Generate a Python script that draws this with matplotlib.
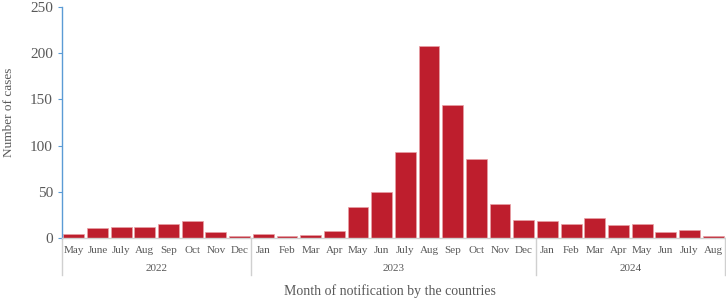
import numpy as np
import matplotlib.pyplot as plt
from matplotlib import transforms

plt.rcParams['font.family'] = ['Liberation Serif', 'DejaVu Serif']

# Monthly case counts, May 2022 - Aug 2024
MONTHS = ['May', 'June', 'July', 'Aug', 'Sep', 'Oct', 'Nov', 'Dec',
          'Jan', 'Feb', 'Mar', 'Apr', 'May', 'Jun', 'July', 'Aug', 'Sep', 'Oct', 'Nov', 'Dec',
          'Jan', 'Feb', 'Mar', 'Apr', 'May', 'Jun', 'July', 'Aug']
CASES = [4, 11, 12, 12, 15, 18, 6, 2,
         4, 2, 3, 8, 34, 50, 93, 208, 144, 86, 37, 19,
         18, 15, 22, 14, 15, 6, 9, 2]
YEARS = ['2022', '2023', '2024']
YEAR_COUNTS = [8, 12, 8]

BAR_COLOR = '#BE1E2D'
TEXT_COLOR = '#595959'

fig = plt.figure(figsize=(7.26, 2.99), dpi=100)
ax = fig.add_axes([62 / 726, 1 - 238 / 299, (725 - 62) / 726, (238 - 7) / 299])

x = np.arange(len(CASES))
ax.bar(x, CASES, width=0.88, color=BAR_COLOR, edgecolor='#E8A0A5', linewidth=0.5)

ax.set_xlim(-0.5, len(CASES) - 0.5)
ax.set_ylim(0, 250)
ax.set_yticks(range(0, 251, 50))
ax.tick_params(axis='y', labelsize=11, colors=TEXT_COLOR, length=3, color='#5B9BD5')
ax.set_xticks(x)
ax.set_xticklabels(MONTHS)
ax.tick_params(axis='x', labelsize=8, colors=TEXT_COLOR, length=0, pad=6)

for s in ['top', 'right']:
    ax.spines[s].set_visible(False)
ax.spines['left'].set_color('#5B9BD5')
ax.spines['left'].set_linewidth(1.0)
ax.spines['bottom'].set_color('#D0D0D0')
ax.spines['bottom'].set_linewidth(1.0)

# year groups: separators and labels under the month labels
trans = transforms.blended_transform_factory(ax.transData, ax.transAxes)
edges = np.concatenate([[0], np.cumsum(YEAR_COUNTS)]) - 0.5
for e in edges:
    ax.plot([e, e], [0, -0.16], transform=trans, color='#D0D0D0', lw=1.0, clip_on=False)
for i, yr in enumerate(YEARS):
    ax.text((edges[i] + edges[i + 1]) / 2, -0.13, yr, transform=trans,
            ha='center', va='center', fontsize=8, color=TEXT_COLOR)

fig.text(9 / 726, 1 - 112 / 299, 'Number of cases', rotation=90,
         ha='center', va='center', fontsize=9.5, color=TEXT_COLOR)
fig.text(390 / 726, 0.028, 'Month of notification by the countries',
         ha='center', va='center', fontsize=10, color=TEXT_COLOR)

fig.savefig('out.png', dpi=100)
